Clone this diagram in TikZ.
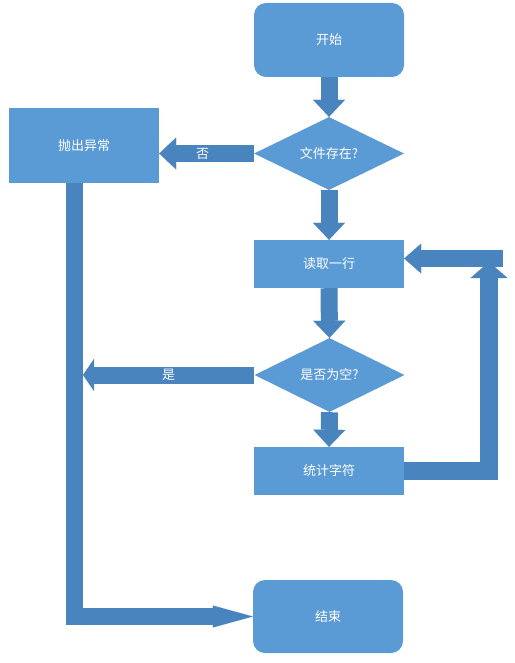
\documentclass[tikz,border=0pt]{standalone}
\usepackage{fontspec}
\setmainfont{Noto Sans CJK SC}
\usetikzlibrary{shapes.geometric,arrows.meta,calc}
\definecolor{boxblue}{HTML}{5B9BD5}
\definecolor{arrblue}{HTML}{4A84BF}
\tikzset{
  box/.style={rectangle, fill=boxblue, minimum width=150pt, inner sep=0pt, text=white, font=\fontsize{13}{15}\selectfont},
  rbox/.style={box, rounded corners=12pt},
  dia/.style={diamond, fill=boxblue, minimum width=150pt, aspect=2, inner sep=0pt, text=white, font=\fontsize{13}{15}\selectfont},
  fat/.style={draw=arrblue, line width=17pt, line cap=butt, line join=miter},
  fatarrow/.style={fat, -{Triangle[width=32pt,length=17pt,line width=0.01pt]}},
  lbl/.style={text=white, font=\fontsize{13}{15}\selectfont, inner sep=0pt}
}
\begin{document}
\begin{tikzpicture}[x=1pt,y=-1pt]
\useasboundingbox (0,0) rectangle (514,663);
\node[rbox, minimum height=74pt] (start) at (329,40) {开始};
\node[dia, minimum height=73pt] (d1) at (329,153.5) {文件存在?};
\node[box, minimum height=75pt] (err) at (84,145.5) {抛出异常};
\node[box, minimum height=48pt] (read) at (329,264) {读取一行};
\node[dia, minimum height=74pt] (d2) at (329.5,375) {是否为空?};
\node[box, minimum height=48pt] (stat) at (329,471) {统计字符};
\node[rbox, minimum height=73pt] (end) at (328,616.5) {结束};
\coordinate (vtop) at ($(err.south)+(-9.5,0)$);
\coordinate (vright) at (83,375);
\coordinate (looptop) at (489,262);
\coordinate (loopR) at (503,258.5);
% straight down arrows
\draw[fatarrow] (start.south) -- (d1.north);
\draw[fatarrow] (d1.south) -- (read.north);
\draw[fatarrow] (read.south) -- (d2.north);
\draw[fatarrow] (d2.south) -- (stat.north);
% no branch
\draw[fatarrow] (d1.west) -- (d1.west -| err.east) node[lbl, pos=0.54] {否};
% yes branch
\draw[fat, -{Triangle[width=32pt,length=11pt,line width=0.01pt]}] (d2.west) -- (d2.west -| vright) node[lbl, pos=0.5] {是};
% exception to end
\draw[fat, -{Triangle[width=22pt,length=40pt,line width=0.01pt]}] (vtop) |- (end.west);
% loop back
\draw[draw=arrblue, line width=18pt, line join=miter, -{Triangle[width=37pt,length=16pt,line width=0.01pt]}] (stat.east) -| (looptop);
\draw[fatarrow, line width=17pt, -{Triangle[width=30pt,length=17pt,line width=0.01pt]}] (loopR) -- (loopR -| read.east);
\end{tikzpicture}
\end{document}
